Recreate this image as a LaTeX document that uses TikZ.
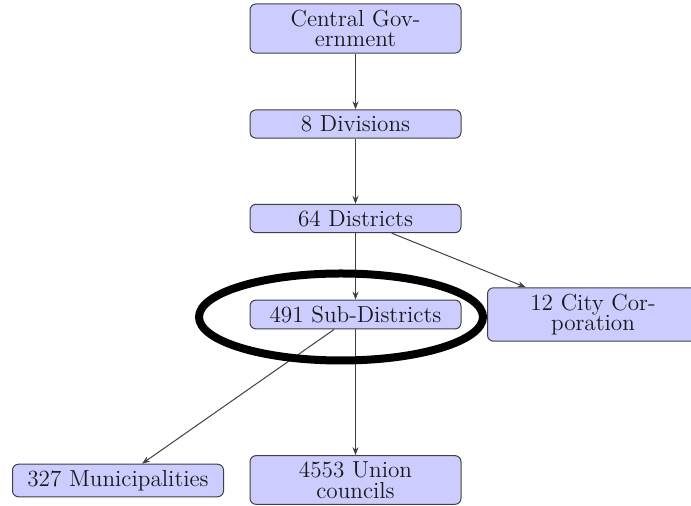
\documentclass[tikz,border=0pt]{standalone}
\usepackage{amsmath,amssymb}
\usepackage{tikz}
\usetikzlibrary{arrows.meta,positioning,shapes.geometric}
\tikzset{
    >={Stealth[length=4pt,width=3pt]},
    every picture/.style={line width=0.5pt},
    unit/.style={rectangle,rounded corners=3pt,draw=black!75,fill=blue!20,text=black!90,
        text width=99pt,inner xsep=3.25pt,inner ysep=3pt,align=center,
        font=\fontsize{11.6}{10.3}\selectfont},
    link/.style={->,draw=black!75}
}

\begin{document}
\begin{tikzpicture}[x=0.5pt,y=-0.5pt]
    \useasboundingbox (0,0) rectangle (691,506);
    \node[unit] (govt) at (355.5,28.5) {Central Gov-\\ernment};
    \node[unit] (div) at (355.5,124) {8 Divisions};
    \node[unit] (dist) at (355.5,218.5) {64 Districts};
    \node[unit] (sub) at (355.5,314.5) {491 Sub-Districts};
    \node[unit] (city) at (593,314.5) {12 City Cor-\\poration};
    \node[unit] (mun) at (118,480.5) {327 Municipalities};
    \node[unit] (union) at (355.5,480) {4553 Union\\councils};
    \draw[link] (govt) -- (div);
    \draw[link] (div) -- (dist);
    \draw[link] (dist) -- (sub);
    \draw[link] (dist) -- (city);
    \draw[link] (sub) -- (mun);
    \draw[link] (sub) -- (union);
    \draw[line width=4pt] (341,317) ellipse [x radius=71pt, y radius=21.75pt];
\end{tikzpicture}
\end{document}
